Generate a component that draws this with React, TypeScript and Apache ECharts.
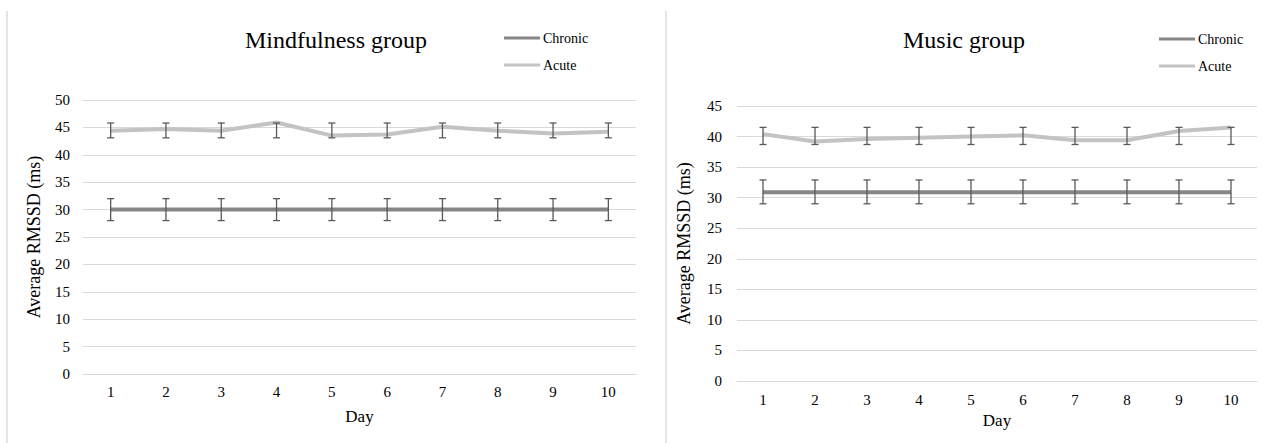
import React, { useEffect, useRef } from "react";
import * as echarts from "echarts";

const days = ["1", "2", "3", "4", "5", "6", "7", "8", "9", "10"];

const mindChronic = [30, 30, 30, 30, 30, 30, 30, 30, 30, 30];
const mindChronicLow = [28, 28, 28, 28, 28, 28, 28, 28, 28, 28];
const mindChronicHigh = [32, 32, 32, 32, 32, 32, 32, 32, 32, 32];
const mindAcute = [44.4, 44.7, 44.4, 45.9, 43.5, 43.7, 45.1, 44.4, 43.9, 44.2];
const mindAcuteLow = [43.1, 43.1, 43.1, 43.1, 43.1, 43.1, 43.1, 43.1, 43.1, 43.1];
const mindAcuteHigh = [45.8, 45.8, 45.8, 45.8, 45.8, 45.8, 45.8, 45.8, 45.8, 45.8];

const musicChronic = [30.9, 30.9, 30.9, 30.9, 30.9, 30.9, 30.9, 30.9, 30.9, 30.9];
const musicChronicLow = [29, 29, 29, 29, 29, 29, 29, 29, 29, 29];
const musicChronicHigh = [32.9, 32.9, 32.9, 32.9, 32.9, 32.9, 32.9, 32.9, 32.9, 32.9];
const musicAcute = [40.4, 39.2, 39.6, 39.8, 40.0, 40.2, 39.4, 39.4, 40.9, 41.5];
const musicAcuteLow = [38.7, 38.7, 38.7, 38.7, 38.7, 38.7, 38.7, 38.7, 38.7, 38.7];
const musicAcuteHigh = [41.5, 41.5, 41.5, 41.5, 41.5, 41.5, 41.5, 41.5, 41.5, 41.5];

const mindMax = 50;
const musicMax = 45;
const yStep = 5;

const titles = ["Mindfulness group", "Music group"];
const seriesNames = ["Chronic", "Acute"];
const xName = "Day";
const yName = "Average RMSSD (ms)";

const FONT = "Liberation Serif";
const CHRONIC_COLOR = "#868686";
const ACUTE_COLOR = "#c3c3c3";
const ERR_COLOR = "#595959";
const GRID_COLOR = "#d9d9d9";

function errorSeries(idx: number, low: number[], high: number[]) {
  return {
    type: "custom",
    name: "err" + idx,
    xAxisIndex: idx,
    yAxisIndex: idx,
    z: 5,
    encode: { x: 0, y: [1, 2] },
    data: low.map((l, i) => [i, l, high[i]]),
    renderItem: (params: any, api: any) => {
      const x = api.value(0);
      const lo = api.coord([x, api.value(1)]);
      const hi = api.coord([x, api.value(2)]);
      const hw = 3.5;
      const style = { stroke: ERR_COLOR, lineWidth: 1.3 };
      return {
        type: "group",
        children: [
          { type: "line", shape: { x1: lo[0], y1: lo[1], x2: hi[0], y2: hi[1] }, style },
          { type: "line", shape: { x1: lo[0] - hw, y1: lo[1], x2: lo[0] + hw, y2: lo[1] }, style },
          { type: "line", shape: { x1: hi[0] - hw, y1: hi[1], x2: hi[0] + hw, y2: hi[1] }, style },
        ],
      };
    },
  };
}

function lineSeries(name: string, idx: number, data: number[], color: string) {
  return {
    type: "line",
    name,
    xAxisIndex: idx,
    yAxisIndex: idx,
    data,
    color,
    symbol: "none",
    z: 3,
    lineStyle: { color, width: 4 },
  };
}

export default function App() {
  const ref = useRef<HTMLDivElement>(null);
  useEffect(() => {
    if (!ref.current) return;
    const chart = echarts.init(ref.current, undefined, { renderer: "svg" });
    const grids = [
      { left: 83, top: 100, width: 553, height: 274 },
      { left: 737, top: 106, width: 520, height: 275 },
    ];
    const xAxes = [0, 1].map((i) => ({
      type: "category",
      gridIndex: i,
      data: days,
      boundaryGap: true,
      name: xName,
      nameLocation: "middle",
      nameGap: i === 0 ? 34 : 30,
      nameTextStyle: { fontFamily: FONT, fontSize: 17, color: "#000" },
      axisLine: { show: true, lineStyle: { color: GRID_COLOR, width: 1 } },
      axisTick: { show: false },
      axisLabel: { fontFamily: FONT, fontSize: 15, color: "#000", margin: i === 0 ? 10 : 11 },
    }));
    const yAxes = [0, 1].map((i) => ({
      type: "value",
      gridIndex: i,
      min: 0,
      max: i === 0 ? mindMax : musicMax,
      interval: yStep,
      name: yName,
      nameLocation: "middle",
      nameGap: i === 0 ? 40 : 44,
      nameTextStyle: { fontFamily: FONT, fontSize: 18, color: "#000" },
      axisLine: { show: false },
      axisTick: { show: false },
      axisLabel: { fontFamily: FONT, fontSize: 15, color: "#000", margin: i === 0 ? 13 : 15 },
      splitLine: { show: true, lineStyle: { color: GRID_COLOR, width: 1 } },
    }));
    const legendBase = {
      data: seriesNames,
      orient: "vertical",
      icon: "rect",
      itemWidth: 36,
      itemHeight: 3,
      itemGap: 13,
      selectedMode: false,
      textStyle: { fontFamily: FONT, fontSize: 14, color: "#000", lineHeight: 14, padding: [0, 0, 0, -2] },
    };
    chart.setOption({
      animation: false,
      backgroundColor: "#fff",
      grid: grids,
      xAxis: xAxes,
      yAxis: yAxes,
      legend: [
        { ...legendBase, left: 499, top: 26 },
        { ...legendBase, left: 1154, top: 27 },
      ],
      series: [
        lineSeries(seriesNames[0], 0, mindChronic, CHRONIC_COLOR),
        lineSeries(seriesNames[1], 0, mindAcute, ACUTE_COLOR),
        lineSeries(seriesNames[0], 1, musicChronic, CHRONIC_COLOR),
        lineSeries(seriesNames[1], 1, musicAcute, ACUTE_COLOR),
        errorSeries(0, mindChronicLow, mindChronicHigh),
        errorSeries(0, mindAcuteLow, mindAcuteHigh),
        errorSeries(1, musicChronicLow, musicChronicHigh),
        errorSeries(1, musicAcuteLow, musicAcuteHigh),
      ],
      graphic: [
        {
          type: "text",
          x: 336,
          y: 40,
          style: {
            text: titles[0],
            font: `24px ${FONT}`,
            fill: "#000",
            align: "center",
            verticalAlign: "middle",
            textAlign: "center",
            textVerticalAlign: "middle",
          },
        },
        {
          type: "text",
          x: 964,
          y: 40,
          style: {
            text: titles[1],
            font: `24px ${FONT}`,
            fill: "#000",
            align: "center",
            verticalAlign: "middle",
            textAlign: "center",
            textVerticalAlign: "middle",
          },
        },
        {
          type: "line",
          shape: { x1: 7, y1: 11, x2: 7, y2: 443 },
          style: { stroke: "#dcdcdc", lineWidth: 1.5 },
        },
        {
          type: "line",
          shape: { x1: 666, y1: 11, x2: 666, y2: 443 },
          style: { stroke: "#dcdcdc", lineWidth: 1.5 },
        },
      ],
    });
    return () => chart.dispose();
  }, []);
  return (
    <div
      ref={ref}
      style={{ position: "fixed", left: 0, top: 0, width: 1286, height: 443, background: "#fff" }}
    />
  );
}
